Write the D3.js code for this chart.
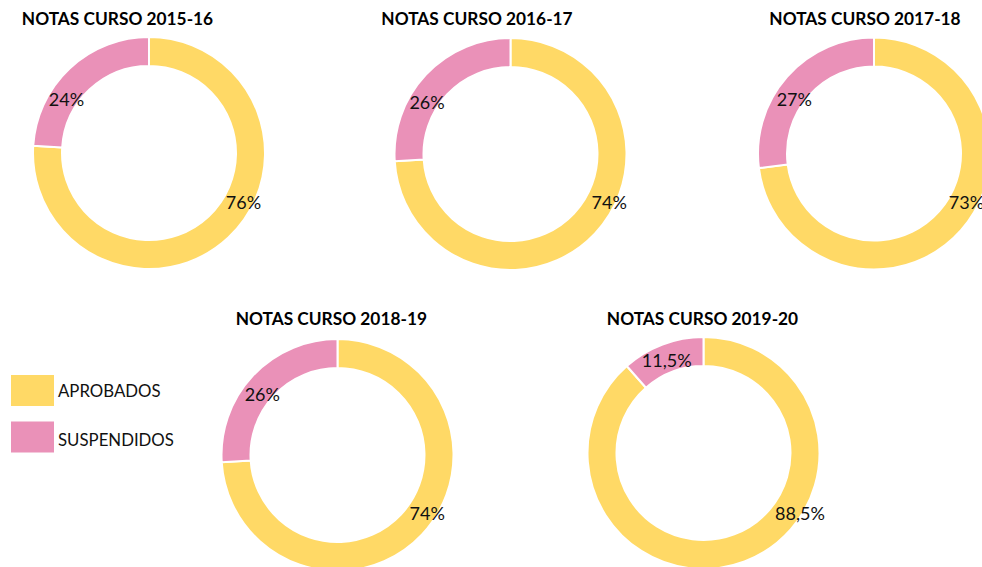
<!DOCTYPE html>
<html><head><meta charset="utf-8">
<script src="https://cdn.jsdelivr.net/npm/d3@7/dist/d3.min.js"></script>
<style>body{margin:0;background:#fff;overflow:hidden}svg{display:block}</style>
</head><body>
<svg id="chart" width="982" height="567"></svg>
<script>
// ---- data ----
const categories = ["APROBADOS", "SUSPENDIDOS"];
const courses = ["2015-16", "2016-17", "2017-18", "2018-19", "2019-20"];
const aprobados = [76, 74, 73, 74, 88.5];
const suspendidos = [24, 26, 27, 26, 11.5];

// ---- layout / style ----
const colors = ["#FFD966", "#EA91B8"];
const centers = [[149, 153], [510.5, 154], [874, 153.5], [337.5, 455], [703.5, 453]];
const titleCenters = [[117.5, 18.5], [477, 18.5], [865, 18.5], [331.3, 318.5], [702.5, 318.5]];
// label placement (angle deg clockwise from top, radius) for [aprobados, suspendidos]
const labelPlace = [
  [[117.4, 106.4], [303.2, 98.6]],
  [[115.9, 109.8], [302.1, 98.5]],
  [[117.7, 104.4], [304.4, 96.6]],
  [[123.0, 107.0], [308.9, 96.6]],
  [[121.9, 113.6], [338.4, 100.0]]
];
const outerR = 116, innerR = 87;

const fmt = v => String(v).replace(".", ",") + "%";
const svg = d3.select("#chart");
const pie = d3.pie().sort(null).value(d => d.v);
const arc = d3.arc().innerRadius(innerR).outerRadius(outerR);

courses.forEach((c, i) => {
  const data = [{k: categories[0], v: aprobados[i]}, {k: categories[1], v: suspendidos[i]}];
  const g = svg.append("g").attr("transform", `translate(${centers[i][0]},${centers[i][1]})`);
  g.selectAll("path").data(pie(data)).join("path")
    .attr("d", arc)
    .attr("fill", (d, j) => colors[j])
    .attr("stroke", "#fff").attr("stroke-width", 2);
  g.selectAll("text.lbl").data(data).join("text")
    .attr("class", "lbl")
    .attr("x", (d, j) => labelPlace[i][j][1] * Math.sin(labelPlace[i][j][0] * Math.PI / 180))
    .attr("y", (d, j) => -labelPlace[i][j][1] * Math.cos(labelPlace[i][j][0] * Math.PI / 180))
    .attr("text-anchor", "middle").attr("dominant-baseline", "central")
    .attr("font-family", "Lato, 'Open Sans', sans-serif").attr("font-size", 18)
    .attr("fill", "#111")
    .text(d => fmt(d.v));
  svg.append("text")
    .attr("x", titleCenters[i][0]).attr("y", titleCenters[i][1])
    .attr("text-anchor", "middle").attr("dominant-baseline", "central")
    .attr("font-family", "Lato, 'Open Sans', sans-serif").attr("font-weight", "bold")
    .attr("font-size", 17.3).attr("fill", "#000")
    .text("NOTAS CURSO " + c);
});

// legend
const leg = svg.append("g");
categories.forEach((k, j) => {
  leg.append("rect").attr("x", 11).attr("y", 375 + j * 46.5).attr("width", 43).attr("height", 31)
    .attr("fill", colors[j]);
  leg.append("text").attr("x", 58).attr("y", 390 + j * 49)
    .attr("dominant-baseline", "central")
    .attr("font-family", "Lato, 'Open Sans', sans-serif").attr("font-size", 16.8)
    .attr("fill", "#111").text(k);
});
</script>
</body></html>
